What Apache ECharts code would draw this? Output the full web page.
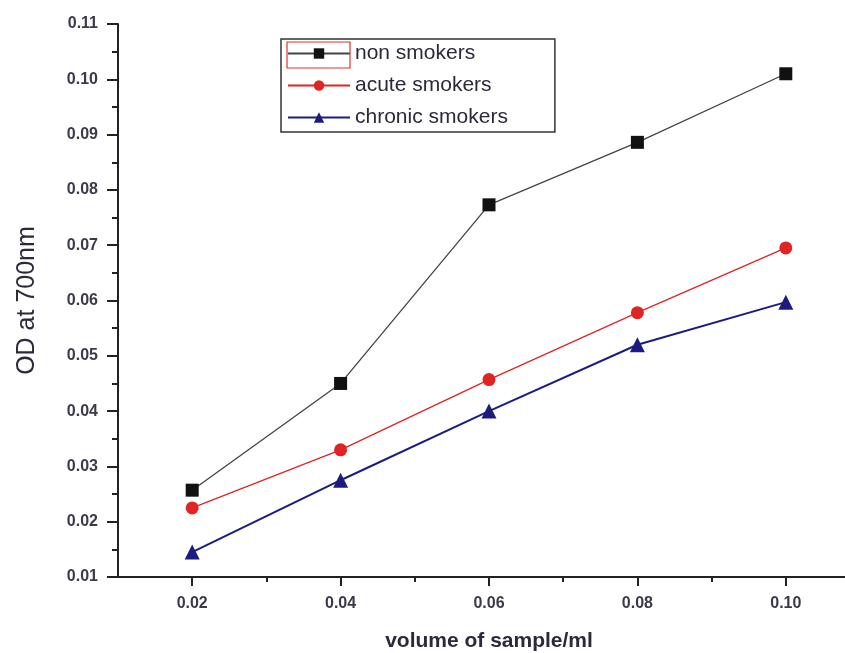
<!DOCTYPE html>
<html>
<head>
<meta charset="utf-8">
<script src="https://cdn.jsdelivr.net/npm/echarts@6/dist/echarts.min.js"></script>
<style>
  html, body { margin: 0; padding: 0; background: #fff; }
  #chart { width: 845px; height: 653px; }
</style>
</head>
<body>
<div id="chart"></div>
<script>
// OD at 700nm vs sample volume, three groups

const volumes = [0.02, 0.04, 0.06, 0.08, 0.10];
const nonSmokers = [0.0257, 0.0450, 0.0773, 0.0886, 0.1010];
const acuteSmokers = [0.0225, 0.0330, 0.0457, 0.0578, 0.0695];
const chronicSmokers = [0.0145, 0.0275, 0.0400, 0.0520, 0.0597];

const xMajorTicks = [0.02, 0.04, 0.06, 0.08, 0.10];
const xMinorTicks = [0.03, 0.05, 0.07, 0.09];

const FONT = 'Liberation Sans, Arial, sans-serif';
const AXIS = '#222';

const pairs = (ys) => volumes.map((x, i) => [x, ys[i]]);

const chart = echarts.init(document.getElementById('chart'), null, { renderer: 'canvas' });

const option = {
  animation: false,
  backgroundColor: '#fff',
  grid: { left: 118, top: 24, right: -15, bottom: 76, containLabel: false, outerBoundsMode: 'none' },
  legend: {
    orient: 'vertical',
    left: 281,
    top: 39,
    padding: [4, 47, 4, 6],
    itemGap: 11,
    itemWidth: 62,
    itemHeight: 13,
    borderColor: '#333',
    borderWidth: 1.5,
    textStyle: { fontFamily: FONT, fontSize: 21, color: '#2a2a3a' },
    data: ['non smokers', 'acute smokers', 'chronic smokers']
  },
  graphic: [{
    type: 'rect',
    shape: { x: 287, y: 42, width: 63, height: 26 },
    style: { fill: 'none', stroke: '#e03030', lineWidth: 1.2 },
    z: 100
  }],
  xAxis: [{
    type: 'value',
    position: 'bottom',
    min: 0.01,
    max: 0.11,
    name: 'volume of sample/ml',
    nameLocation: 'middle',
    nameGap: 54,
    nameTextStyle: { fontFamily: FONT, fontSize: 21, fontWeight: 'bold', color: '#2a2a3a' },
    axisLine: { lineStyle: { color: AXIS, width: 2 } },
    axisTick: { customValues: xMajorTicks, length: 9, lineStyle: { color: AXIS, width: 2 } },
    axisLabel: {
      customValues: xMajorTicks,
      margin: 19,
      fontFamily: FONT, fontSize: 16, fontWeight: 'bold', color: '#3a3a4a',
      formatter: (v) => v.toFixed(2)
    },
    splitLine: { show: false }
  }, {
    type: 'value',
    position: 'bottom',
    min: 0.01,
    max: 0.11,
    axisLine: { show: false },
    axisTick: { customValues: xMinorTicks, length: 5, lineStyle: { color: AXIS, width: 2 } },
    axisLabel: { show: false },
    splitLine: { show: false }
  }],
  yAxis: {
    type: 'value',
    min: 0.01,
    max: 0.11,
    interval: 0.01,
    name: 'OD at 700nm',
    nameLocation: 'middle',
    nameGap: 78,
    nameTextStyle: { fontFamily: FONT, fontSize: 25, color: '#2a2a3a' },
    axisLine: { show: true, lineStyle: { color: AXIS, width: 2 } },
    axisTick: { show: true, length: 11, lineStyle: { color: AXIS, width: 2 } },
    minorTick: { show: true, splitNumber: 2, length: 6, lineStyle: { color: AXIS, width: 2 } },
    axisLabel: {
      margin: 20,
      fontFamily: FONT, fontSize: 16, fontWeight: 'bold', color: '#3a3a4a',
      formatter: (v) => v.toFixed(2)
    },
    splitLine: { show: false }
  },
  series: [{
    name: 'non smokers',
    type: 'line',
    data: pairs(nonSmokers),
    symbol: 'rect',
    symbolSize: 13,
    itemStyle: { color: '#111' },
    lineStyle: { color: '#444', width: 1.3 }
  }, {
    name: 'acute smokers',
    type: 'line',
    data: pairs(acuteSmokers),
    symbol: 'circle',
    symbolSize: 13,
    itemStyle: { color: '#e02424' },
    lineStyle: { color: '#e02424', width: 1.3 }
  }, {
    name: 'chronic smokers',
    type: 'line',
    data: pairs(chronicSmokers),
    symbol: 'triangle',
    symbolSize: 15,
    itemStyle: { color: '#1c1c80' },
    lineStyle: { color: '#1c1c80', width: 2 }
  }]
};

chart.setOption(option);
</script>
</body>
</html>
